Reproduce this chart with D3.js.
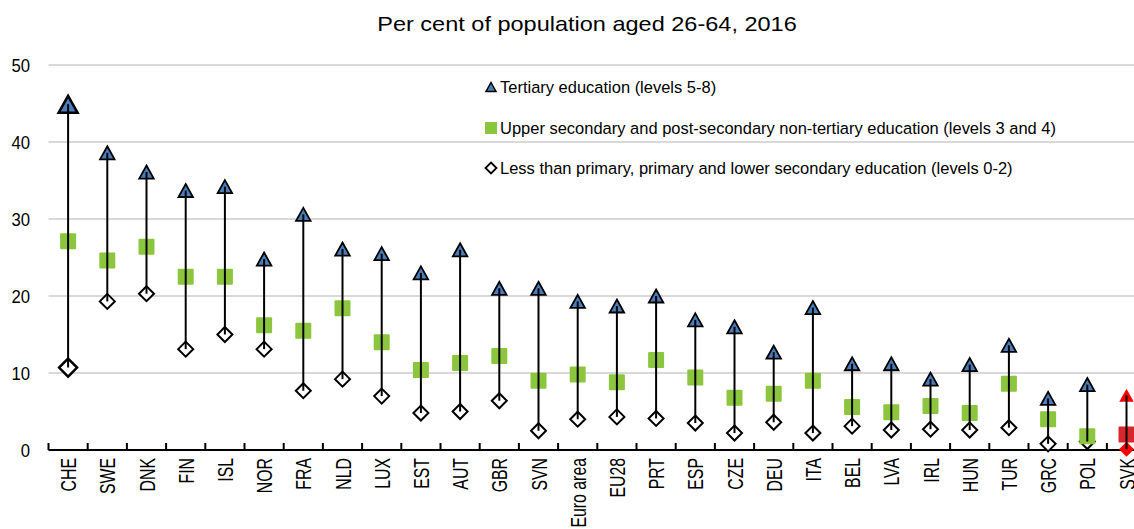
<!DOCTYPE html>
<html>
<head>
<meta charset="utf-8">
<script src="https://cdn.jsdelivr.net/npm/d3@7"></script>
<style>
  body { margin: 0; background: #fff; }
  text { font-family: "Liberation Sans", Arial, sans-serif; fill: #000; }
</style>
</head>
<body>
<svg id="chart" width="1134" height="529"></svg>
<script>
const countries = ["CHE", "SWE", "DNK", "FIN", "ISL", "NOR", "FRA", "NLD", "LUX", "EST", "AUT", "GBR", "SVN",
  "Euro area", "EU28", "PRT", "ESP", "CZE", "DEU", "ITA", "BEL", "LVA", "IRL", "HUN", "TUR", "GRC", "POL", "SVK"];
const tertiary = [44.9, 38.6, 36.1, 33.7, 34.2, 24.8, 30.6, 26.1, 25.5, 23.0, 26.0, 21.0, 21.0,
  19.3, 18.7, 20.0, 16.9, 16.0, 12.7, 18.5, 11.2, 11.2, 9.2, 11.1, 13.6, 6.7, 8.5, 7.1];
const upperSecondary = [27.1, 24.6, 26.4, 22.5, 22.5, 16.2, 15.5, 18.4, 14.0, 10.4, 11.3, 12.2, 9.0,
  9.8, 8.8, 11.7, 9.4, 6.8, 7.3, 9.0, 5.6, 4.9, 5.7, 4.8, 8.6, 4.0, 1.8, 2.0];
const lowerSecondary = [10.7, 19.3, 20.3, 13.1, 15.0, 13.1, 7.7, 9.2, 7.0, 4.8, 5.0, 6.4, 2.5,
  4.0, 4.3, 4.1, 3.5, 2.2, 3.6, 2.2, 3.1, 2.6, 2.7, 2.6, 2.9, 0.8, 1.1, 0.1];
const yTicks = [0, 10, 20, 30, 40, 50];
const legendLabels = [
  "Tertiary education (levels 5-8)",
  "Upper secondary and post-secondary non-tertiary education (levels 3 and 4)",
  "Less than primary, primary and lower secondary education (levels 0-2)"
];
const highlight = "SVK";
const bigOne = "CHE";

const colors = {
  tri: "#4a7ebb", sq: "#8cc63f", dia: "#fff",
  hiTri: "#ff0000", hiSq: "#d9262b", hiDia: "#ff0000",
  grid: "#d9d9d9"
};

const svg = d3.select("#chart");
const marginLeft = 48.5, plotBottom = 450, plotTop = 65;
const step = 39.2;

const x = d3.scaleBand().domain(countries).range([marginLeft, marginLeft + step * countries.length]).padding(0);
const y = d3.scaleLinear().domain([0, 50]).range([plotBottom, plotTop]);

const rows = countries.map((c, i) => ({
  c, t: tertiary[i], u: upperSecondary[i], l: lowerSecondary[i]
}));

// title
svg.append("text")
  .attr("transform", "translate(587,31) scale(1.12,1)")
  .attr("text-anchor", "middle")
  .attr("font-size", 21)
  .text("Per cent of population aged 26-64, 2016");

// grid
svg.append("g").selectAll("line")
  .data(yTicks.filter(d => d > 0))
  .join("line")
  .attr("x1", marginLeft).attr("x2", 1134)
  .attr("y1", d => y(d)).attr("y2", d => y(d))
  .attr("stroke", colors.grid).attr("stroke-width", 2);

// y labels
svg.append("g").selectAll("text")
  .data(yTicks)
  .join("text")
  .attr("transform", d => `translate(30,${y(d) + 6.5}) scale(0.93,1)`)
  .attr("text-anchor", "end")
  .attr("font-size", 18)
  .text(d => d);

// x axis
const ax = svg.append("g");
ax.append("line")
  .attr("x1", marginLeft).attr("x2", 1134)
  .attr("y1", plotBottom).attr("y2", plotBottom)
  .attr("stroke", "#000").attr("stroke-width", 2);
ax.selectAll(".tk")
  .data(countries)
  .join("line")
  .attr("class", "tk")
  .attr("x1", d => x(d)).attr("x2", d => x(d))
  .attr("y1", plotBottom - 7).attr("y2", plotBottom)
  .attr("stroke", "#000").attr("stroke-width", 2);
ax.selectAll("text")
  .data(countries)
  .join("text")
  .attr("transform", d => `translate(${x(d) + x.bandwidth() / 2 + 8},${plotBottom + 8}) rotate(-90) scale(0.72,1)`)
  .attr("text-anchor", "end")
  .attr("font-size", 22)
  .text(d => d);

const triPath = (w, h) => `M0,${-h / 2}L${w / 2},${h / 2}L${-w / 2},${h / 2}Z`;
const diaPath = r => `M0,${-r}L${r},0L0,${r}L${-r},0Z`;

const marks = svg.append("g");
const cx = d => x(d.c) + x.bandwidth() / 2;

// diamonds (levels 0-2)
marks.selectAll(".dia")
  .data(rows)
  .join("path")
  .attr("class", "dia")
  .attr("transform", d => `translate(${cx(d)},${y(d.l)})`)
  .attr("d", d => diaPath(d.c === bigOne ? 9 : 7.5))
  .attr("fill", d => d.c === highlight ? colors.hiDia : colors.dia)
  .attr("stroke", d => d.c === highlight ? "none" : "#000")
  .attr("stroke-width", d => d.c === bigOne ? 2.5 : 2);

// squares (levels 3-4)
marks.selectAll(".sq")
  .data(rows)
  .join("rect")
  .attr("class", "sq")
  .attr("x", d => cx(d) - 8).attr("y", d => y(d.u) - 8)
  .attr("width", 16).attr("height", 16)
  .attr("rx", 1)
  .attr("fill", d => d.c === highlight ? colors.hiSq : colors.sq);

// triangles (levels 5-8)
marks.selectAll(".tri")
  .data(rows)
  .join("path")
  .attr("class", "tri")
  .attr("transform", d => `translate(${cx(d)},${y(d.t)})`)
  .attr("d", d => d.c === bigOne ? triPath(19, 17) : triPath(14.5, 13))
  .attr("fill", d => d.c === highlight ? colors.hiTri : colors.tri)
  .attr("stroke", d => d.c === highlight ? "none" : "#000")
  .attr("stroke-width", d => d.c === bigOne ? 2.5 : 1.8)
  .attr("stroke-linejoin", "miter");

// range lines on top
marks.selectAll(".rng")
  .data(rows)
  .join("line")
  .attr("class", "rng")
  .attr("x1", cx).attr("x2", cx)
  .attr("y1", d => y(d.l)).attr("y2", d => y(d.t))
  .attr("stroke", "#000").attr("stroke-width", 2);

// legend
const lg = svg.append("g").attr("transform", "translate(491,0)");
const lgY = [87, 128, 168];
lg.append("path")
  .attr("transform", `translate(0,${lgY[0]})`)
  .attr("d", triPath(10, 9))
  .attr("fill", colors.tri).attr("stroke", "#000").attr("stroke-width", 1.5);
lg.append("rect")
  .attr("x", -6).attr("y", lgY[1] - 6)
  .attr("width", 12).attr("height", 12)
  .attr("fill", colors.sq);
lg.append("path")
  .attr("transform", `translate(0,${lgY[2]})`)
  .attr("d", diaPath(5.5))
  .attr("fill", "#fff").attr("stroke", "#000").attr("stroke-width", 1.8);
lg.selectAll("text")
  .data(legendLabels)
  .join("text")
  .attr("transform", (d, i) => `translate(9,${lgY[i] + 6}) scale(0.97,1)`)
  .attr("font-size", 17)
  .text(d => d);
</script>
</body>
</html>
